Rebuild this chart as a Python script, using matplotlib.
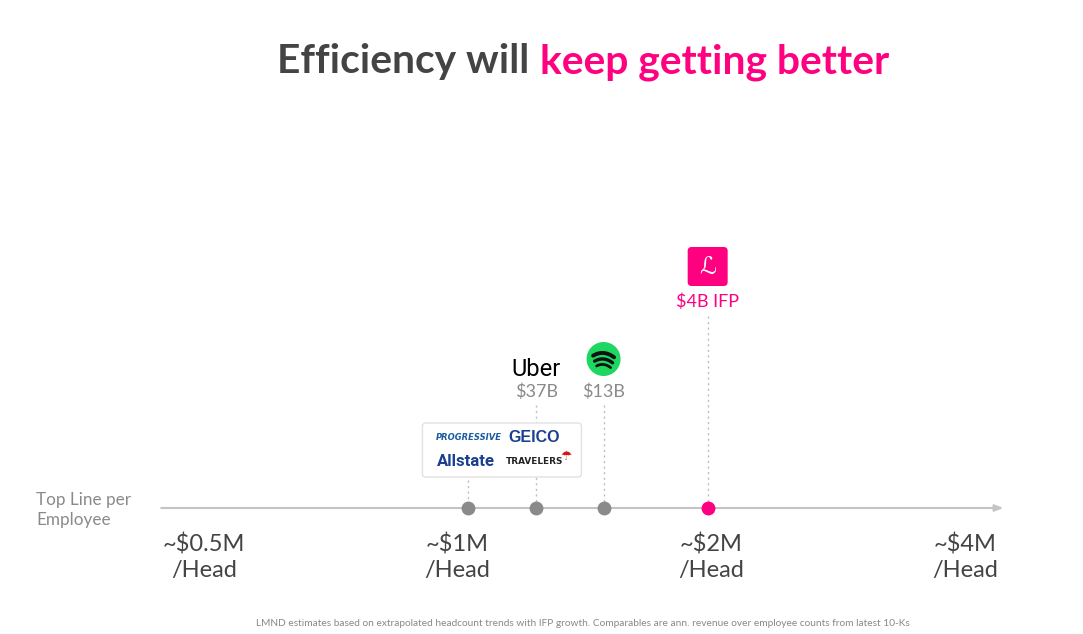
import numpy as np
import matplotlib
matplotlib.use("Agg")
import matplotlib.pyplot as plt
from matplotlib.patches import FancyBboxPatch, Circle

# ---- data ----
tick_values = [0.5, 1, 2, 4]
tick_labels = ["~$0.5M\n/Head", "~$1M\n/Head", "~$2M\n/Head", "~$4M\n/Head"]
company_names = ["Insurers", "Uber", "Spotify", "Lemonade"]
revenue_per_head = [1.03, 1.24, 1.49, 1.98]   # $M per employee
value_labels = ["", "$37B", "$13B", "$4B IFP"]

GRAY = "#8a8a8a"
DARK = "#444444"
PINK = "#FF0080"
LINE = "#c4c4c4"

W, H = 1083, 634
fig = plt.figure(figsize=(W / 100, H / 100), dpi=100)
fig.patch.set_facecolor("white")

# data axes: log2 x, pixel-like y (top = 0)
ax = fig.add_axes([0, 0, 1, 1])
ax.set_xscale("log", base=2)
ax.set_xlim(0.2865, 5.52)
ax.set_ylim(H, 0)
ax.axis("off")

# overlay axes in pixel coordinates for decorations
ov = fig.add_axes([0, 0, 1, 1])
ov.set_xlim(0, W)
ov.set_ylim(H, 0)
ov.axis("off")
ov.patch.set_alpha(0)


def px(v):
    return ax.transData.transform((v, 0))[0] * W / fig.bbox.width


axis_y = 508
# axis line with arrow
ax.annotate("", xy=(4.44, axis_y), xytext=(0.445, axis_y),
            arrowprops=dict(arrowstyle="-|>,head_length=0.5,head_width=0.2",
                            color=LINE, lw=1.5, shrinkA=0, shrinkB=0))

# tick labels
for v, lab in zip(tick_values, tick_labels):
    ax.text(v, 557, lab, ha="center", va="center", fontsize=17,
            family="Lato", color=DARK, linespacing=1.25)

# axis title
ov.text(36, 510, "Top Line per\nEmployee", ha="left", va="center",
        fontsize=12.3, family="Lato", color=GRAY, linespacing=1.3)

# dotted stems
stem_tops = [480, 405, 405, 316]
colors = [GRAY, GRAY, GRAY, PINK]
for v, top, c in zip(revenue_per_head, stem_tops, colors):
    ax.plot([v, v], [top, axis_y - 6], ls=(0, (1.5, 2.5)), color="#bdbdbd",
            lw=1.0, zorder=2)
    ax.plot([v], [axis_y], "o", ms=10, color=c, mec="none", zorder=4)

# value labels
label_y = [None, 392, 392, 302]
for v, lab, y, c in zip(revenue_per_head, value_labels, label_y, colors):
    if lab:
        ax.text(v, y, lab, ha="center", va="center", fontsize=13,
                family="Lato", color=c if c == PINK else GRAY)

# ---- logos ----
# insurers box
xi = px(revenue_per_head[0])
box = FancyBboxPatch((xi - 46, 423), 159, 54,
                     boxstyle="round,pad=0,rounding_size=3",
                     fc="white", ec="#e2e2e2", lw=1.0, zorder=3)
ov.add_patch(box)
ov.text(xi - 33, 438, "PROGRESSIVE", ha="left", va="center", fontsize=6.0,
        family="DejaVu Sans", weight="bold", style="italic", color="#1a5aa0",
        zorder=5)
ov.text(xi + 40, 438, "GEICO", ha="left", va="center", fontsize=11.5,
        family="Liberation Sans", weight="bold", color="#1a3f8f", zorder=5)
ov.text(xi - 31, 461, "Allstate", ha="left", va="center", fontsize=12,
        family="Roboto", weight="bold", color="#1a3f8f", zorder=5)
ov.text(xi + 37, 462, "TRAVELERS", ha="left", va="center", fontsize=6.4,
        family="DejaVu Sans", weight="bold", color="#222222", zorder=5)
ov.text(xi + 98, 457, "☂", ha="center", va="center", fontsize=9,
        family="DejaVu Sans", color="#d7141a", zorder=5)

# Uber
xu = px(revenue_per_head[1])
ov.text(xu, 369, "Uber", ha="center", va="center", fontsize=17,
        family="Roboto", weight="normal", color="black", zorder=5)

# Spotify
xs = px(revenue_per_head[2])
cy = 359
ov.add_patch(Circle((xs, cy), 17, fc="#1ed760", ec="none", zorder=5))
for dy, half, lw, sag in [(-6, 10.5, 2.8, 3.5), (0, 9, 2.4, 3), (5.5, 7, 2.0, 2.3)]:
    t = np.linspace(-1, 1, 40)
    xs_arc = xs + t * half
    ys_arc = cy + dy + sag * t ** 2 + 0.8 * t
    ov.plot(xs_arc, ys_arc, color="#111111", lw=lw, solid_capstyle="round",
            zorder=6)

# Lemonade
xl = px(revenue_per_head[3])
ov.add_patch(FancyBboxPatch((xl - 20, 247), 40, 39,
                            boxstyle="round,pad=0,rounding_size=4",
                            fc=PINK, ec="none", zorder=5))
ov.text(xl, 267, "ℒ", ha="center", va="center", fontsize=17,
        family=["DejaVu Sans", "Noto Sans CJK SC"], color="white", zorder=6)

# ---- title ----
renderer = fig.canvas.get_renderer()
t1 = ov.text(0, 62, "Efficiency will ", ha="left", va="center", fontsize=29.3,
             family="Lato", weight="bold", color=DARK)
t2 = ov.text(0, 62, "keep getting better", ha="left", va="center",
             fontsize=29.3, family="Lato", weight="bold", color=PINK)
w1 = t1.get_window_extent(renderer).width * W / fig.bbox.width
w2 = t2.get_window_extent(renderer).width * W / fig.bbox.width
start = 583 - (w1 + w2) / 2
t1.set_x(start)
t2.set_x(start + w1)

# footnote
ov.text(583, 624, "LMND estimates based on extrapolated headcount trends with IFP "
        "growth. Comparables are ann. revenue over employee counts from latest 10-Ks",
        ha="center", va="center", fontsize=7.3, family="Lato", color="#888888")

fig.savefig("out.png", dpi=100, facecolor="white")
